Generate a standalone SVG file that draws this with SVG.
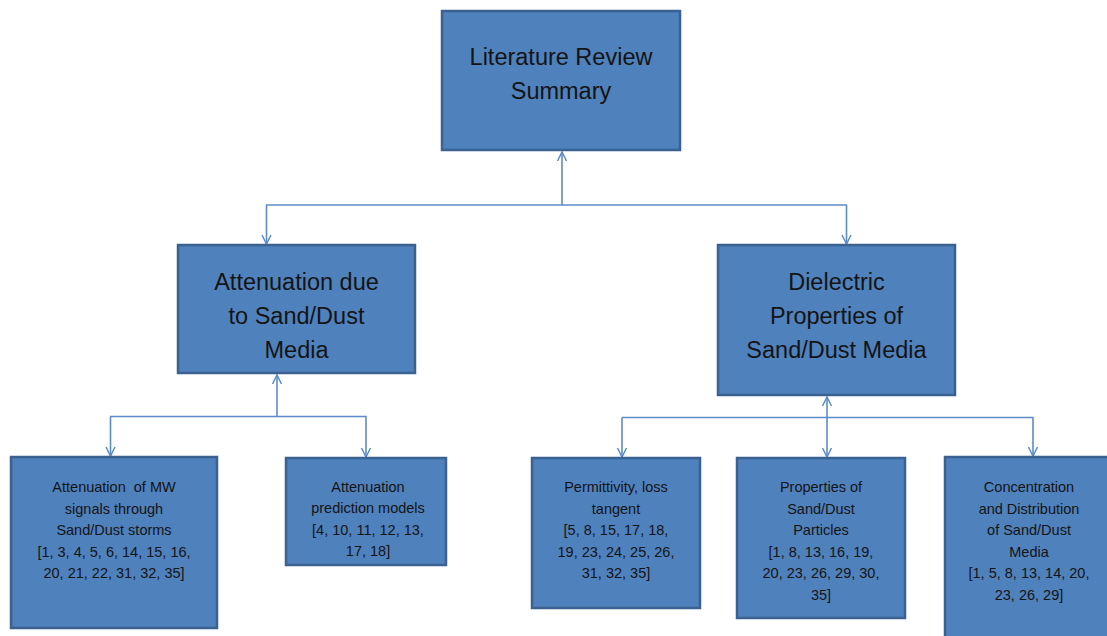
<svg xmlns="http://www.w3.org/2000/svg" width="1107" height="636" viewBox="0 0 1107 636">
<defs>
<marker id="arr" markerUnits="userSpaceOnUse" markerWidth="20" markerHeight="20" refX="0" refY="0" viewBox="-10 -10 20 20" orient="auto" overflow="visible">
<path d="M-9,-4.5 L0,0 L-9,4.5" fill="none" stroke="#5B8CC8" stroke-width="1.5"/>
</marker>
<style>
.box{fill:#4F81BD;stroke:#3B6190;stroke-width:2.5}
.big{font-family:"Liberation Sans",Arial,sans-serif;font-size:23.5px;fill:#141414;text-anchor:middle}
.sm{font-family:"Liberation Sans",Arial,sans-serif;font-size:14.5px;fill:#141414;text-anchor:middle;white-space:pre}
.c{fill:none;stroke:#5B8CC8;stroke-width:1.6}
.ca{fill:none;stroke:#5B8CC8;stroke-width:1.6;marker-end:url(#arr)}
</style>
</defs>
<rect width="1107" height="636" fill="#ffffff"/>
<g id="connectors">
<line class="ca" x1="562" y1="205" x2="562" y2="152"/>
<line class="c" x1="266" y1="205" x2="847" y2="205"/>
<line class="ca" x1="266.5" y1="205" x2="266.5" y2="244"/>
<line class="ca" x1="846.5" y1="205" x2="846.5" y2="244"/>
<line class="ca" x1="277" y1="416.5" x2="277" y2="375"/>
<line class="c" x1="110" y1="416.5" x2="366.5" y2="416.5"/>
<line class="ca" x1="110.5" y1="416.5" x2="110.5" y2="456"/>
<line class="ca" x1="366" y1="416.5" x2="366" y2="457"/>
<line class="ca" x1="827" y1="417.5" x2="827" y2="397"/>
<line class="c" x1="622" y1="417.5" x2="1033.5" y2="417.5"/>
<line class="ca" x1="622" y1="417.5" x2="622" y2="457"/>
<line class="ca" x1="827" y1="417.5" x2="827" y2="457"/>
<line class="ca" x1="1033" y1="417.5" x2="1033" y2="456"/>
</g>
<g id="node-summary">
<rect class="box" x="442" y="11" width="238" height="139"/>
<text class="big" x="561" y="65">Literature Review</text>
<text class="big" x="561" y="99">Summary</text>
</g>
<g id="node-attenuation">
<rect class="box" x="178" y="245" width="237" height="128"/>
<text class="big" x="296.5" y="290">Attenuation due</text>
<text class="big" x="296.5" y="324">to Sand/Dust</text>
<text class="big" x="296.5" y="358">Media</text>
</g>
<g id="node-dielectric">
<rect class="box" x="718" y="245" width="237" height="150"/>
<text class="big" x="836.5" y="290">Dielectric</text>
<text class="big" x="836.5" y="324">Properties of</text>
<text class="big" x="836.5" y="358">Sand/Dust Media</text>
</g>
<g id="node-mw">
<rect class="box" x="11" y="457" width="206" height="171"/>
<text class="sm" x="114" y="492">Attenuation  of MW</text>
<text class="sm" x="114" y="514">signals through</text>
<text class="sm" x="114" y="535">Sand/Dust storms</text>
<text class="sm" x="114" y="557">[1, 3, 4, 5, 6, 14, 15, 16,</text>
<text class="sm" x="114" y="578">20, 21, 22, 31, 32, 35]</text>
</g>
<g id="node-prediction">
<rect class="box" x="286" y="458" width="160" height="107"/>
<text class="sm" x="368" y="492">Attenuation</text>
<text class="sm" x="368" y="513">prediction models</text>
<text class="sm" x="368" y="535">[4, 10, 11, 12, 13,</text>
<text class="sm" x="368" y="556">17, 18]</text>
</g>
<g id="node-permittivity">
<rect class="box" x="532" y="458" width="168" height="150"/>
<text class="sm" x="616" y="492">Permittivity, loss</text>
<text class="sm" x="616" y="514">tangent</text>
<text class="sm" x="616" y="535">[5, 8, 15, 17, 18,</text>
<text class="sm" x="616" y="557">19, 23, 24, 25, 26,</text>
<text class="sm" x="616" y="578">31, 32, 35]</text>
</g>
<g id="node-particles">
<rect class="box" x="737" y="458" width="168" height="160"/>
<text class="sm" x="821" y="492">Properties of</text>
<text class="sm" x="821" y="514">Sand/Dust</text>
<text class="sm" x="821" y="535">Particles</text>
<text class="sm" x="821" y="557">[1, 8, 13, 16, 19,</text>
<text class="sm" x="821" y="578">20, 23, 26, 29, 30,</text>
<text class="sm" x="821" y="600">35]</text>
</g>
<g id="node-concentration">
<rect class="box" x="945" y="457" width="170" height="190"/>
<text class="sm" x="1029" y="492">Concentration</text>
<text class="sm" x="1029" y="514">and Distribution</text>
<text class="sm" x="1029" y="535">of Sand/Dust</text>
<text class="sm" x="1029" y="557">Media</text>
<text class="sm" x="1029" y="578">[1, 5, 8, 13, 14, 20,</text>
<text class="sm" x="1029" y="600">23, 26, 29]</text>
</g>
</svg>
